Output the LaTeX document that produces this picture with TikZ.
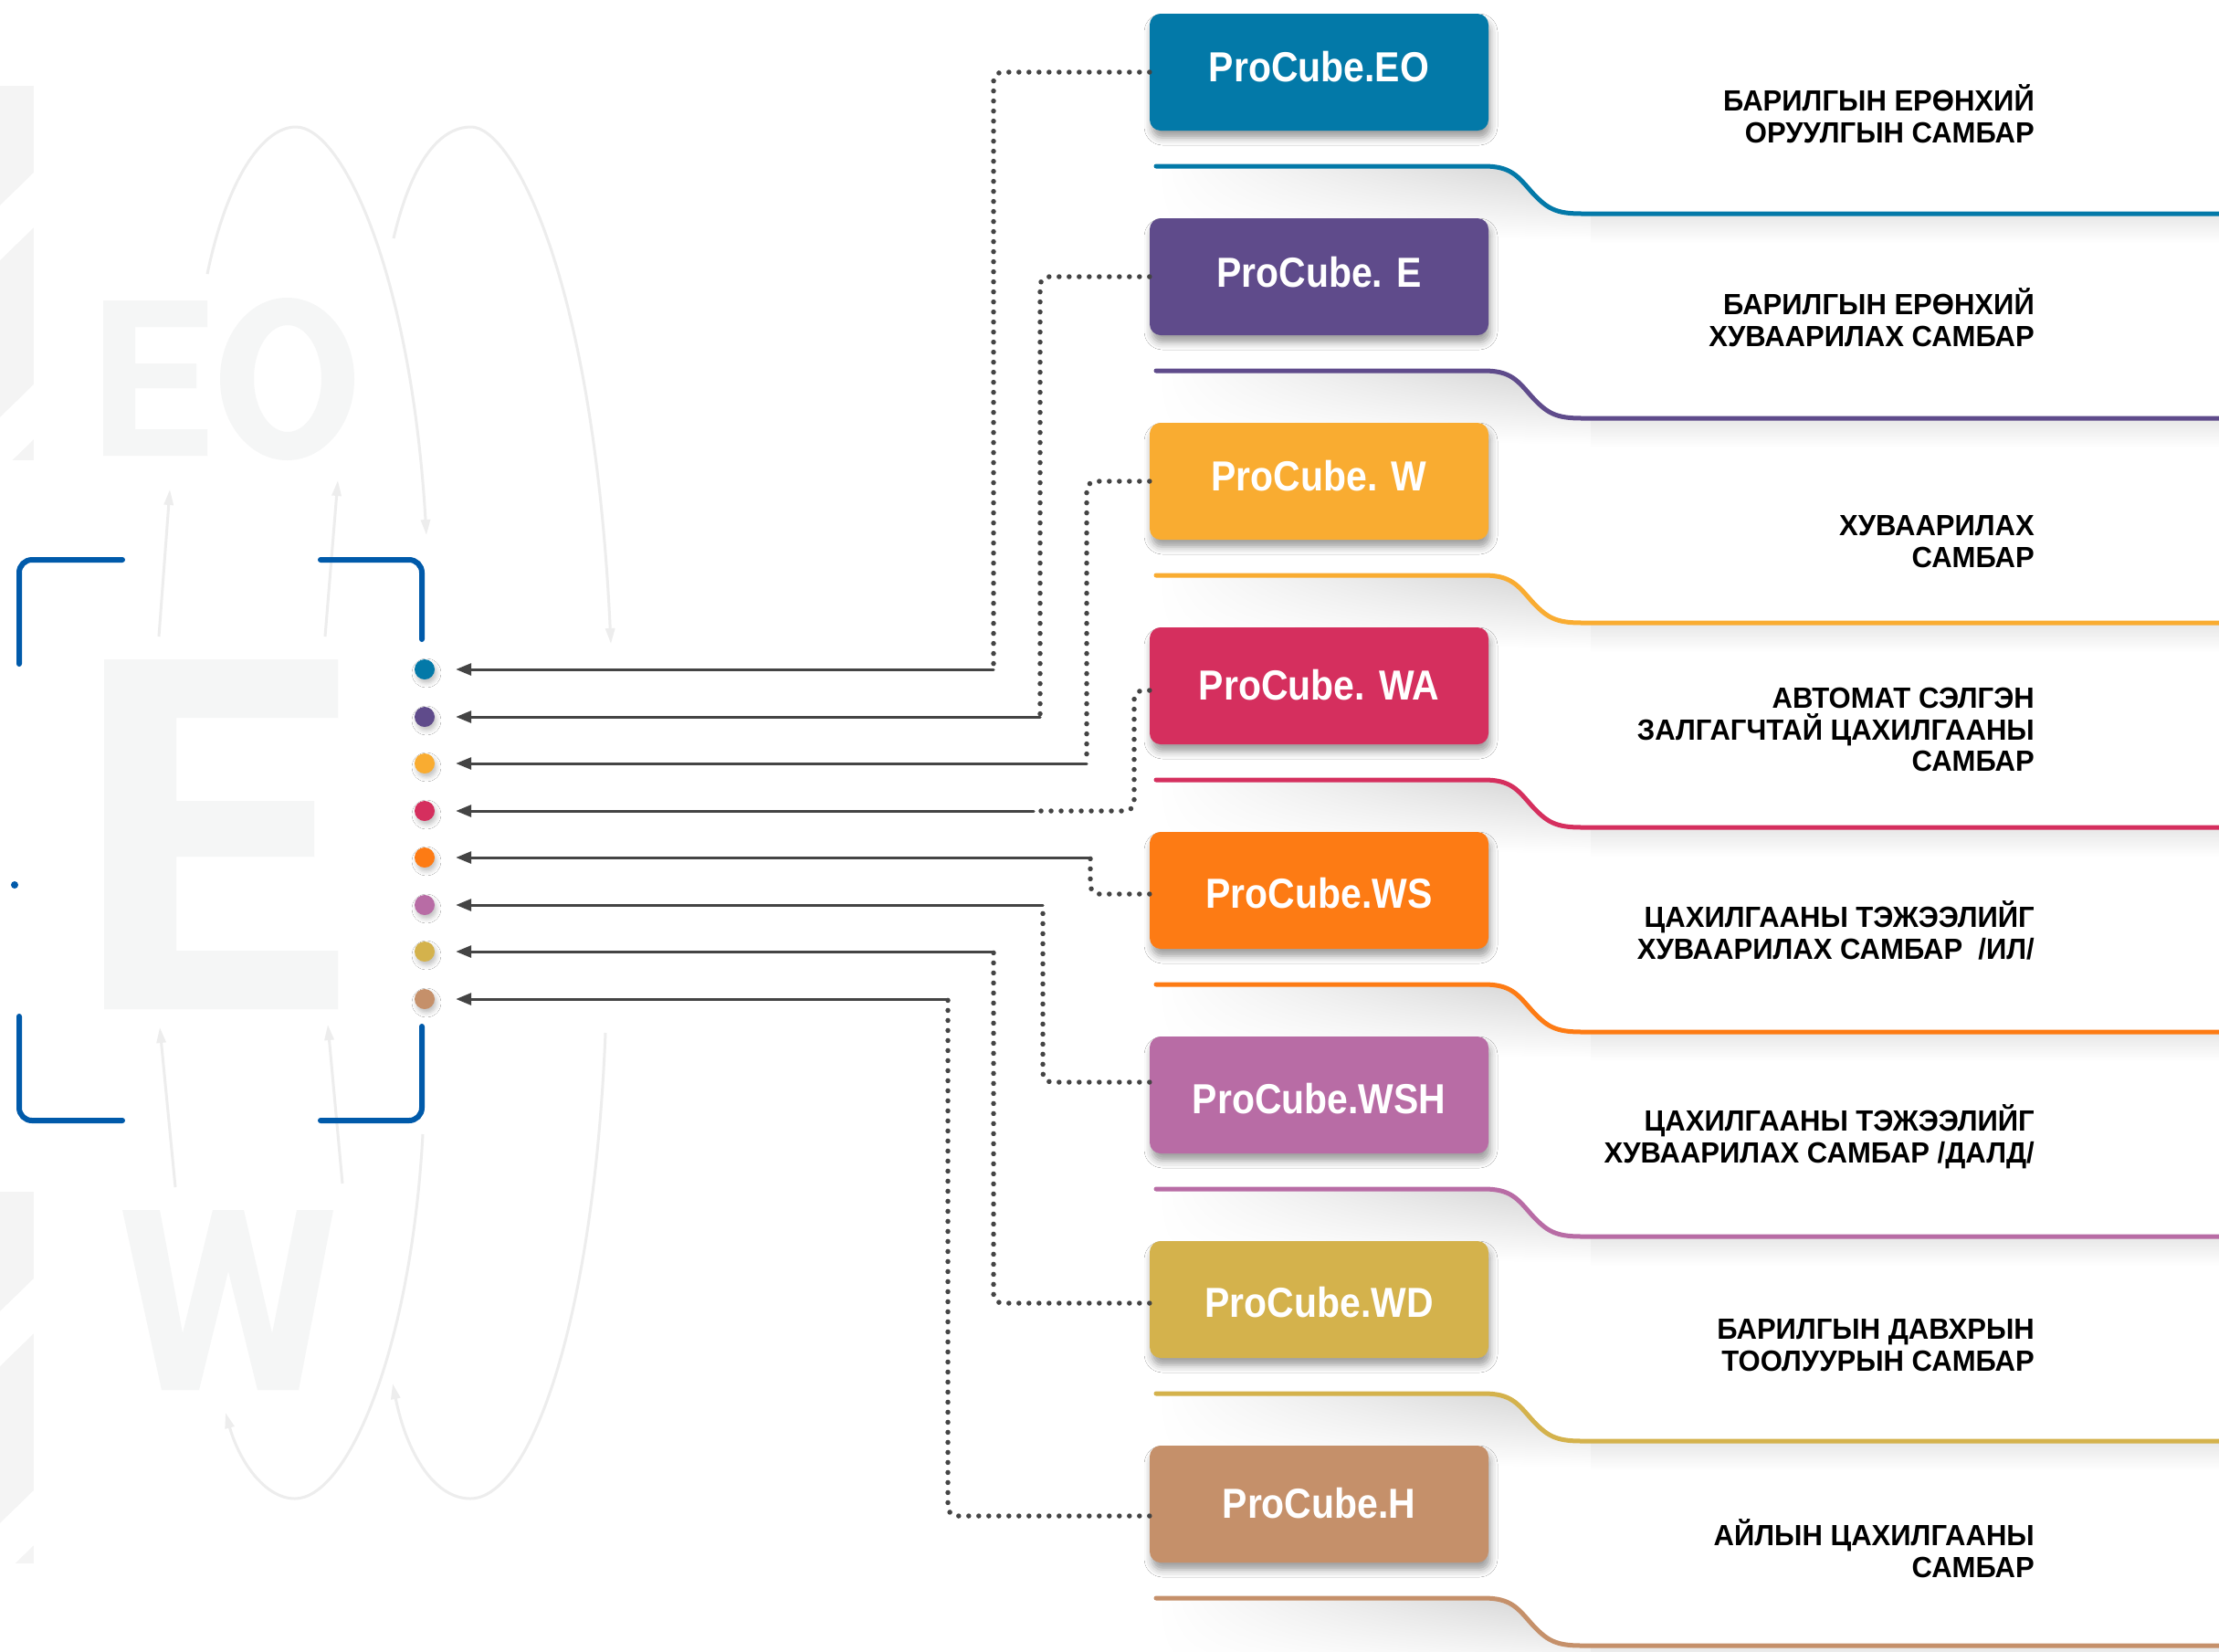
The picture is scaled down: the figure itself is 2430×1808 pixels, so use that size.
\documentclass[tikz,border=0pt]{standalone}
\usepackage{fontspec}
\setmainfont{Liberation Sans}
\newfontfamily\boxfont[FakeStretch=0.89]{Liberation Sans}
\newfontfamily\labfont[FakeStretch=0.97]{Liberation Sans}
\usetikzlibrary{arrows.meta,shadows.blur,shadings}
\definecolor{cEO}{HTML}{0379A8}
\definecolor{cE}{HTML}{5F4B8B}
\definecolor{cW}{HTML}{F9AC31}
\definecolor{cWA}{HTML}{D52F5E}
\definecolor{cWS}{HTML}{FD7B14}
\definecolor{cWSH}{HTML}{B86CA5}
\definecolor{cWD}{HTML}{D4B24C}
\definecolor{cH}{HTML}{C5906A}
\definecolor{cblue}{HTML}{005AAA}
\definecolor{cline}{HTML}{444444}
\definecolor{bgL}{HTML}{F5F6F6}
\definecolor{bgA}{HTML}{EDEDED}
\definecolor{bgH}{HTML}{F4F4F4}
\begin{document}
\begin{tikzpicture}[x=1pt,y=-1pt,
  box/.style={rounded corners=12pt, minimum width=371pt, minimum height=128pt, inner sep=0pt,
    text=white, font={\boxfont\bfseries\fontsize{46}{50}\selectfont}, text depth=0pt,
    blur shadow={shadow xshift=2pt, shadow yshift=-8pt, shadow blur radius=8pt, shadow opacity=38}},
  lab/.style={align=right, inner sep=0pt, font={\labfont\bfseries\fontsize{32}{34.5}\selectfont}},
  dotn/.style={circle, minimum size=22pt, inner sep=0pt,
    blur shadow={shadow xshift=2pt, shadow yshift=-4pt, shadow blur radius=5pt, shadow opacity=25}},
  dotline/.style={draw=cline, line width=5.5pt, line cap=round, dash pattern=on 0pt off 11pt, rounded corners=10pt},
  arrline/.style={draw=cline, line width=3pt, line cap=round, shorten >=23pt, -{Triangle[length=17pt,width=13pt]}},
  bracket/.style={draw=cblue, line width=6pt, line cap=round, rounded corners=14pt},
  bgarc/.style={draw=bgA, line width=3pt, -{Triangle[length=17pt,width=10pt]}},
  cl/.style={line width=5pt, line cap=round}
]
\useasboundingbox (0,0) rectangle (2430,1808);
\fill[white] (0,0) rectangle (2430,1808);

% ---- faint background ----
\fill[bgH] (0,94) rectangle (37,504);
\fill[white] (37,189) -- (37,249) -- (0,285) -- (0,225) -- cycle;
\fill[white] (37,421) -- (37,481) -- (0,517) -- (0,457) -- cycle;
\fill[bgH] (0,1305) rectangle (37,1712);
\fill[white] (37,1400) -- (37,1460) -- (0,1496) -- (0,1436) -- cycle;
\fill[white] (37,1632) -- (37,1692) -- (0,1728) -- (0,1668) -- cycle;

\fill[bgL] (113,329) -- (227,329) -- (227,358) -- (148,358) -- (148,398) -- (215,398) -- (215,425)
  -- (148,425) -- (148,470) -- (227,470) -- (227,499) -- (113,499) -- cycle;
\fill[bgL, even odd rule] (314.5,415) ellipse [x radius=73.5, y radius=89]
  (315,414.5) ellipse [x radius=37, y radius=58.5];
\fill[bgL] (114,722) -- (370,722) -- (370,786) -- (193,786) -- (193,877) -- (344,877) -- (344,938)
  -- (193,938) -- (193,1041) -- (370,1041) -- (370,1105) -- (114,1105) -- cycle;
\fill[bgL] (134,1325) -- (175,1325) -- (200,1460) -- (233,1325) -- (267,1325) -- (298,1460)
  -- (325,1325) -- (365,1325) -- (327,1522) -- (282,1522) -- (250,1392) -- (218,1522)
  -- (177,1522) -- cycle;

\draw[bgarc] (227,300) .. controls (250,190) and (290,139) .. (324,139)
  .. controls (375,139) and (450,300) .. (467,586);
\draw[bgarc] (431,261) .. controls (450,180) and (480,139) .. (516,139)
  .. controls (560,139) and (650,300) .. (669,705);
\draw[bgarc] (174,697) -- (186,536);
\draw[bgarc] (356,697) -- (370,526);
\draw[bgarc] (463,1242) .. controls (450,1480) and (380,1641) .. (323,1641)
  .. controls (290,1641) and (262,1600) .. (247,1547);
\draw[bgarc] (663,1131) .. controls (650,1450) and (580,1641) .. (515,1641)
  .. controls (475,1641) and (445,1590) .. (430,1515);
\draw[bgarc] (192,1300) -- (175,1125);
\draw[bgarc] (375,1296) -- (359,1122);

% ---- brackets ----
\draw[bracket] (134,613) -- (21,613) -- (21,727);
\draw[bracket] (351,613) -- (462,613) -- (462,700);
\draw[bracket] (21,1113) -- (21,1227) -- (134,1227);
\draw[bracket] (462,1124) -- (462,1227) -- (351,1227);
\fill[cblue] (16,969) circle [radius=4];

% ---- coloured rails with shadows ----
\foreach \i/\c in {0/cEO,1/cE,2/cW,3/cWA,4/cWS,5/cWSH,6/cWD,7/cH}{
  \pgfmathsetmacro\yo{224*\i}
  \shade[shading=bilinear interpolation, upper left=white, upper right=black!18, lower left=white, lower right=white]
    (1266,{184+\yo}) -- (1625,{184+\yo}) .. controls (1655,{184+\yo}) and (1662,{195+\yo}) .. (1678,{213+\yo})
    .. controls (1694,{230+\yo}) and (1703,{236+\yo}) .. (1732,{236+\yo})
    -- (1742,{236+\yo}) -- (1742,{262+\yo}) -- (1266,{262+\yo}) -- cycle;
  \shade[top color=black!9, bottom color=white]
    (1742,{236+\yo}) -- (2440,{236+\yo}) -- (2440,{266+\yo}) -- (1742,{266+\yo}) -- cycle;
  \draw[cl, draw=\c] (1266,{182+\yo}) -- (1625,{182+\yo})
    .. controls (1655,{182+\yo}) and (1662,{193+\yo}) .. (1678,{211+\yo})
    .. controls (1694,{228+\yo}) and (1703,{234+\yo}) .. (1732,{234+\yo}) -- (2440,{234+\yo});
}

% ---- boxes ----
\node[box, fill=cEO,  text height=21pt] (b1) at (1444.5,79)   {ProCube.EO};
\node[box, fill=cE,   text height=22pt] (b2) at (1444.5,303)  {ProCube. E};
\node[box, fill=cW,   text height=21pt] (b3) at (1444.5,527)  {ProCube. W};
\node[box, fill=cWA,  text height=31pt] (b4) at (1444.5,751)  {ProCube. WA};
\node[box, fill=cWS,  text height=39pt] (b5) at (1444.5,975)  {ProCube.WS};
\node[box, fill=cWSH, text height=41pt] (b6) at (1444.5,1199) {ProCube.WSH};
\node[box, fill=cWD,  text height=39pt] (b7) at (1444.5,1423) {ProCube.WD};
\node[box, fill=cH,   text height=30pt] (b8) at (1444.5,1647) {ProCube.H};

% ---- labels (anchored at the baseline of the last line) ----
\node[lab, anchor=base east] (t1) at (2228,156)    {БАРИЛГЫН ЕРӨНХИЙ\\ОРУУЛГЫН САМБАР};
\node[lab, anchor=base east] (t2) at (2228,379)    {БАРИЛГЫН ЕРӨНХИЙ\\ХУВААРИЛАХ САМБАР};
\node[lab, anchor=base east] (t3) at (2228,621)    {ХУВААРИЛАХ\\САМБАР};
\node[lab, anchor=base east] (t4) at (2228,844.5)  {АВТОМАТ СЭЛГЭН\\ЗАЛГАГЧТАЙ ЦАХИЛГААНЫ\\САМБАР};
\node[lab, anchor=base east] (t5) at (2228,1050)   {ЦАХИЛГААНЫ ТЭЖЭЭЛИЙГ\\ХУВААРИЛАХ САМБАР\ \ /ИЛ/};
\node[lab, anchor=base east] (t6) at (2228,1273)   {ЦАХИЛГААНЫ ТЭЖЭЭЛИЙГ\\ХУВААРИЛАХ САМБАР /ДАЛД/};
\node[lab, anchor=base east] (t7) at (2228,1501)   {БАРИЛГЫН ДАВХРЫН\\ТООЛУУРЫН САМБАР};
\node[lab, anchor=base east] (t8) at (2228,1727)   {АЙЛЫН ЦАХИЛГААНЫ\\САМБАР};

% ---- dots ----
\node[dotn, fill=cEO]  (d1) at (465,733)  {};
\node[dotn, fill=cE]   (d2) at (465,785)  {};
\node[dotn, fill=cW]   (d3) at (465,836)  {};
\node[dotn, fill=cWA]  (d4) at (465,888)  {};
\node[dotn, fill=cWS]  (d5) at (465,939)  {};
\node[dotn, fill=cWSH] (d6) at (465,991)  {};
\node[dotn, fill=cWD]  (d7) at (465,1042) {};
\node[dotn, fill=cH]   (d8) at (465,1094) {};

% ---- connectors ----
\coordinate (j1) at (1088,733);
\coordinate (j2) at (1139,785);
\coordinate (j3) at (1190,836);
\coordinate (c4) at (1242,888);
\coordinate (j4) at (1132,888);
\coordinate (j5) at (1194,939);
\coordinate (j6) at (1142,991);
\coordinate (j7) at (1088,1042);
\coordinate (j8) at (1038,1094);

\draw[dotline] (b1.west) -| (j1);
\draw[dotline] (b2.west) -| (j2);
\draw[dotline] (b3.west) -| (j3);
\draw[dotline] ([yshift=-5pt]b4.west) -| (c4) -- (j4);
\draw[dotline] ([yshift=-4pt]b5.west) -| (j5);
\draw[dotline] ([yshift=14pt]b6.west) -| (j6);
\draw[dotline] ([yshift=-4pt]b7.west) -| (j7);
\draw[dotline] ([yshift=-13pt]b8.west) -| (j8);

\draw[arrline] (j1) -- (d1);
\draw[arrline] (j2) -- (d2);
\draw[arrline] (j3) -- (d3);
\draw[arrline] (j4) -- (d4);
\draw[arrline] (j5) -- (d5);
\draw[arrline] (j6) -- (d6);
\draw[arrline] (j7) -- (d7);
\draw[arrline] (j8) -- (d8);
\end{tikzpicture}
\end{document}
